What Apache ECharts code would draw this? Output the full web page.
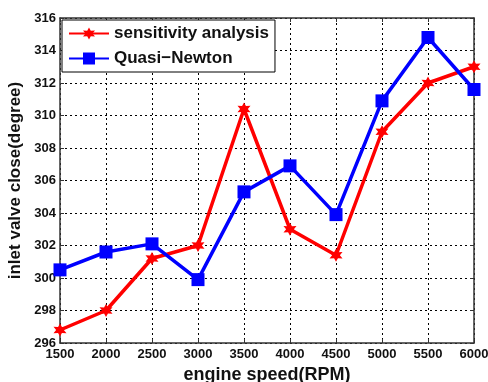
<!DOCTYPE html>
<html><head><meta charset="utf-8">
<script src="https://cdn.jsdelivr.net/npm/echarts@6/dist/echarts.min.js"></script>
<style>html,body{margin:0;padding:0;background:#fff}#c{width:488px;height:382px}</style>
</head><body><div id="c"></div>
<script>
var speeds = [1500, 2000, 2500, 3000, 3500, 4000, 4500, 5000, 5500, 6000];
var sensitivity = [296.8, 298.0, 301.2, 302.0, 310.4, 303.0, 301.4, 309.0, 312.0, 313.0];
var quasiNewton = [300.5, 301.6, 302.1, 299.9, 305.3, 306.9, 303.9, 310.9, 314.8, 311.6];
var xTicks = {min: 1500, max: 6000, step: 500};
var yTicks = {min: 296, max: 316, step: 2};

function pairs(xs, ys){ return xs.map(function(x,i){return [x, ys[i]];}); }
var star = 'path://M0,-10 L2.6,-4.5 L8.7,-5 L5.2,0 L8.7,5 L2.6,4.5 L0,10 L-2.6,4.5 L-8.7,5 L-5.2,0 L-8.7,-5 L-2.6,-4.5 Z';
var font = 'Liberation Sans, Arial, sans-serif';
var gridLine = {show: true, lineStyle: {color: '#000', type: [2, 3], width: 1}};
var tickStyle = {color: '#111', fontWeight: 'bold', fontSize: 13, fontFamily: font};
var chart = echarts.init(document.getElementById('c'));
chart.setOption({
  animation: false,
  backgroundColor: '#fff',
  grid: {left: 60, right: 14, top: 18, bottom: 39, containLabel: false, outerBoundsMode: 'none'},
  legend: {
    orient: 'vertical', left: 62, top: 20,
    backgroundColor: '#fff', borderColor: '#000', borderWidth: 1,
    padding: [5, 6, 5, 6], itemGap: 8, itemWidth: 40, itemHeight: 15,
    textStyle: {fontWeight: 'bold', fontSize: 17, fontFamily: font, color: '#111'},
    data: ['sensitivity analysis', 'Quasi\u2212Newton']
  },
  xAxis: [{
    type: 'value', min: xTicks.min, max: xTicks.max, interval: xTicks.step,
    name: 'engine speed(RPM)', nameLocation: 'middle', nameGap: 22,
    nameTextStyle: {fontWeight: 'bold', fontSize: 18, fontFamily: font, color: '#111'},
    axisLine: {show: true, lineStyle: {color: '#333', width: 1.5}},
    axisTick: {show: true, inside: true, length: 4, lineStyle: {color: '#333'}},
    axisLabel: Object.assign({margin: 5, formatter: function(v){return String(v);}}, tickStyle),
    splitLine: gridLine
  }, {
    type: 'value', position: 'top', min: xTicks.min, max: xTicks.max, interval: xTicks.step,
    axisLine: {show: true, lineStyle: {color: '#333', width: 1.5}},
    axisTick: {show: true, inside: true, length: 4, lineStyle: {color: '#333'}},
    axisLabel: {show: false}, splitLine: {show: false}
  }],
  yAxis: [{
    type: 'value', min: yTicks.min, max: yTicks.max, interval: yTicks.step,
    name: 'inlet valve close(degree)', nameLocation: 'middle', nameGap: 34,
    nameTextStyle: {fontWeight: 'bold', fontSize: 17, fontFamily: font, color: '#111'},
    axisLine: {show: true, lineStyle: {color: '#333', width: 1.5}},
    axisTick: {show: true, inside: true, length: 4, lineStyle: {color: '#333'}},
    axisLabel: Object.assign({margin: 4}, tickStyle),
    splitLine: gridLine
  }, {
    type: 'value', position: 'right', min: yTicks.min, max: yTicks.max, interval: yTicks.step,
    axisLine: {show: true, lineStyle: {color: '#333', width: 1.5}},
    axisTick: {show: true, inside: true, length: 4, lineStyle: {color: '#333'}},
    axisLabel: {show: false}, splitLine: {show: false}
  }],
  series: [{
    name: 'sensitivity analysis', type: 'line', data: pairs(speeds, sensitivity),
    symbol: star, symbolSize: 13, showAllSymbol: true,
    lineStyle: {color: '#ff0000', width: 3.5}, itemStyle: {color: '#ff0000'}
  }, {
    name: 'Quasi\u2212Newton', type: 'line', data: pairs(speeds, quasiNewton),
    symbol: 'rect', symbolSize: 13, showAllSymbol: true,
    lineStyle: {color: '#0000ff', width: 3.5}, itemStyle: {color: '#0000ff'}
  }]
});
</script></body></html>
